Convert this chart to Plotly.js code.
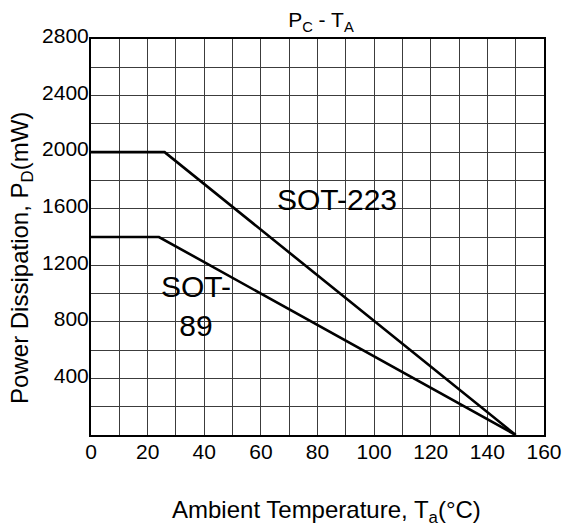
<!DOCTYPE html>
<html>
<head>
<meta charset="utf-8">
<script src="https://cdn.plot.ly/plotly-3.0.1.min.js"></script>
<style>html,body{margin:0;padding:0;background:#fff;}#chart{width:569px;height:529px;}</style>
</head>
<body>
<div id="chart"></div>
<script>
// Data
const sot223Temp = [0, 26, 150];
const sot223Power = [2000, 2000, 0];
const sot89Temp = [0, 24, 150];
const sot89Power = [1400, 1400, 0];
const xTickVals = [0, 20, 40, 60, 80, 100, 120, 140, 160];
const yTickVals = [400, 800, 1200, 1600, 2000, 2400, 2800];
const labels = ["SOT-223", "SOT-<br>89"];
const labelTemp = [87, 37];
const labelPower = [1665, 910];
const xTitle = "Ambient Temperature, T<sub>a</sub>(°C)";
const yTitle = "Power Dissipation, P<sub>D</sub>(mW)";

const font = "Liberation Sans, Arial, sans-serif";
const lineStyle = {color: "#000", width: 2.6};

const traces = [
  {x: sot223Temp, y: sot223Power, mode: "lines", line: lineStyle, name: "SOT-223", showlegend: false, hoverinfo: "skip"},
  {x: sot89Temp, y: sot89Power, mode: "lines", line: lineStyle, name: "SOT-89", showlegend: false, hoverinfo: "skip"}
];

const gridColor = "#3c3c3c";
const annotations = labels.map((t, i) => ({
  x: labelTemp[i], y: labelPower[i], xref: "x", yref: "y", text: t, showarrow: false,
  font: {family: font, size: 30, color: "#000"}, align: "center"
}));
annotations.push({
  text: xTitle, xref: "paper", yref: "paper", x: 0.519, y: -0.192,
  xanchor: "center", yanchor: "middle", showarrow: false,
  font: {family: font, size: 24, color: "#000"}
});
annotations.push({
  text: yTitle, xref: "paper", yref: "paper", x: -0.1525, y: 0.447, textangle: -90,
  xanchor: "center", yanchor: "middle", showarrow: false,
  font: {family: font, size: 24, color: "#000"}
});

const layout = {
  width: 569, height: 529,
  margin: {l: 91, r: 25, t: 39, b: 94},
  paper_bgcolor: "#fff", plot_bgcolor: "#fff",
  font: {family: font, size: 21, color: "#000"},
  title: {text: "P<sub>C</sub> - T<sub>A</sub>", font: {family: font, size: 21, color: "#000"},
          xref: "container", yref: "container", x: 0.564, xanchor: "center", y: 1 - 20/529, yanchor: "middle"},
  xaxis: {
    range: [0, 160], tickvals: xTickVals, ticktext: xTickVals.map(String),
    showgrid: true, gridcolor: gridColor, gridwidth: 1,
    minor: {dtick: 10, tick0: 0, showgrid: true, gridcolor: gridColor, gridwidth: 1},
    showline: true, linecolor: "#000", linewidth: 2, mirror: true,
    ticks: "", zeroline: false, tickfont: {family: font, size: 21, color: "#000"},
    ticklabelstandoff: -3,
    automargin: false, fixedrange: true
  },
  yaxis: {
    range: [0, 2800], tickvals: yTickVals, ticktext: yTickVals.map(String),
    showgrid: true, gridcolor: gridColor, gridwidth: 1,
    minor: {dtick: 200, tick0: 0, showgrid: true, gridcolor: gridColor, gridwidth: 1},
    showline: true, linecolor: "#000", linewidth: 2, mirror: true,
    ticks: "", zeroline: false, tickfont: {family: font, size: 21, color: "#000"},
    ticklabelstandoff: -4, ticklabelshift: -3,
    automargin: false, fixedrange: true
  },
  annotations: annotations,
  showlegend: false
};

Plotly.newPlot("chart", traces, layout, {displayModeBar: false, staticPlot: true});
</script>
</body>
</html>
